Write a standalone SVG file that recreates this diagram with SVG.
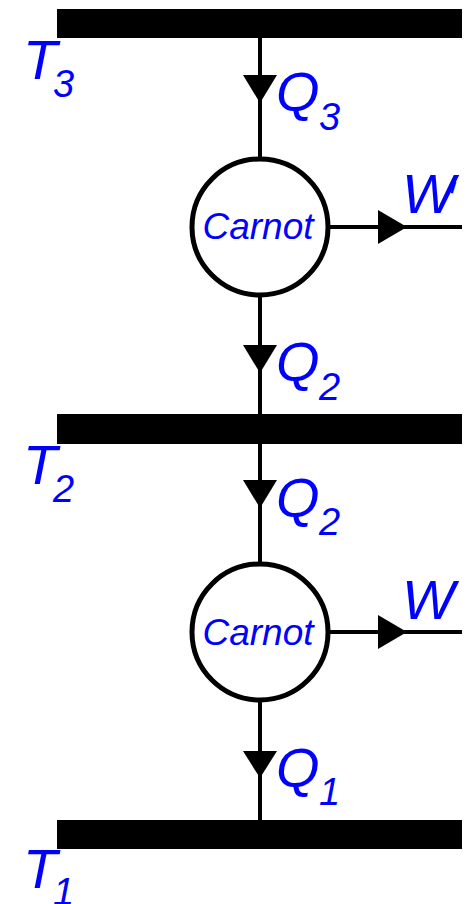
<svg xmlns="http://www.w3.org/2000/svg" width="471" height="904" viewBox="0 0 471 904">
<style>
.bar{fill:#000}
.ln{stroke:#000;stroke-width:4;fill:none}
.ah{fill:#000}
.eng{fill:#fff;stroke:#000;stroke-width:5}
.lbl{font-family:"Liberation Sans",Arial,sans-serif;font-style:italic;fill:#0000ff;font-size:56px}
.sub{font-size:38px}
.cn{font-family:"Liberation Sans",Arial,sans-serif;font-style:italic;fill:#0000ff;font-size:37px;text-anchor:middle}
</style>
<rect width="471" height="904" fill="#fff"/>
<g id="connectors">
<line class="ln" x1="260" y1="38" x2="260" y2="820"/>
<line class="ln" x1="330" y1="227" x2="462" y2="227"/>
<line class="ln" x1="330" y1="632" x2="462" y2="632"/>
<polygon class="ah" points="243,75 277,75 260,103"/>
<polygon class="ah" points="243,345 277,345 260,373"/>
<polygon class="ah" points="243,480 277,480 260,508"/>
<polygon class="ah" points="243,751 277,751 260,778"/>
<polygon class="ah" points="378,210 378,244 407,227"/>
<polygon class="ah" points="378,615 378,649 407,632"/>
</g>
<g id="T3">
<rect class="bar" x="57" y="9" width="405" height="29"/>
<text class="lbl" x="23" y="79">T</text><text class="lbl sub" x="53" y="97">3</text>
</g>
<g id="T2">
<rect class="bar" x="57" y="414" width="405" height="30"/>
<text class="lbl" x="23" y="484">T</text><text class="lbl sub" x="53" y="502">2</text>
</g>
<g id="T1">
<rect class="bar" x="57" y="820" width="405" height="29"/>
<text class="lbl" x="23" y="888">T</text><text class="lbl sub" x="53" y="905">1</text>
</g>
<g id="carnot1">
<circle class="eng" cx="260" cy="227" r="68"/>
<text class="cn" x="258" y="239">Carnot</text>
</g>
<g id="carnot2">
<circle class="eng" cx="260" cy="632" r="68"/>
<text class="cn" x="258" y="645">Carnot</text>
</g>
<g id="labels">
<text class="lbl" x="276" y="111">Q</text><text class="lbl sub" x="319" y="130">3</text>
<text class="lbl" x="276" y="381">Q</text><text class="lbl sub" x="319" y="400">2</text>
<text class="lbl" x="276" y="517">Q</text><text class="lbl sub" x="319" y="535">2</text>
<text class="lbl" x="276" y="787">Q</text><text class="lbl sub" x="319" y="805">1</text>
<text class="lbl" x="402" y="213">W<tspan dx="-8" font-size="44">′</tspan></text>
<text class="lbl" x="402" y="619">W</text>
</g>
</svg>
